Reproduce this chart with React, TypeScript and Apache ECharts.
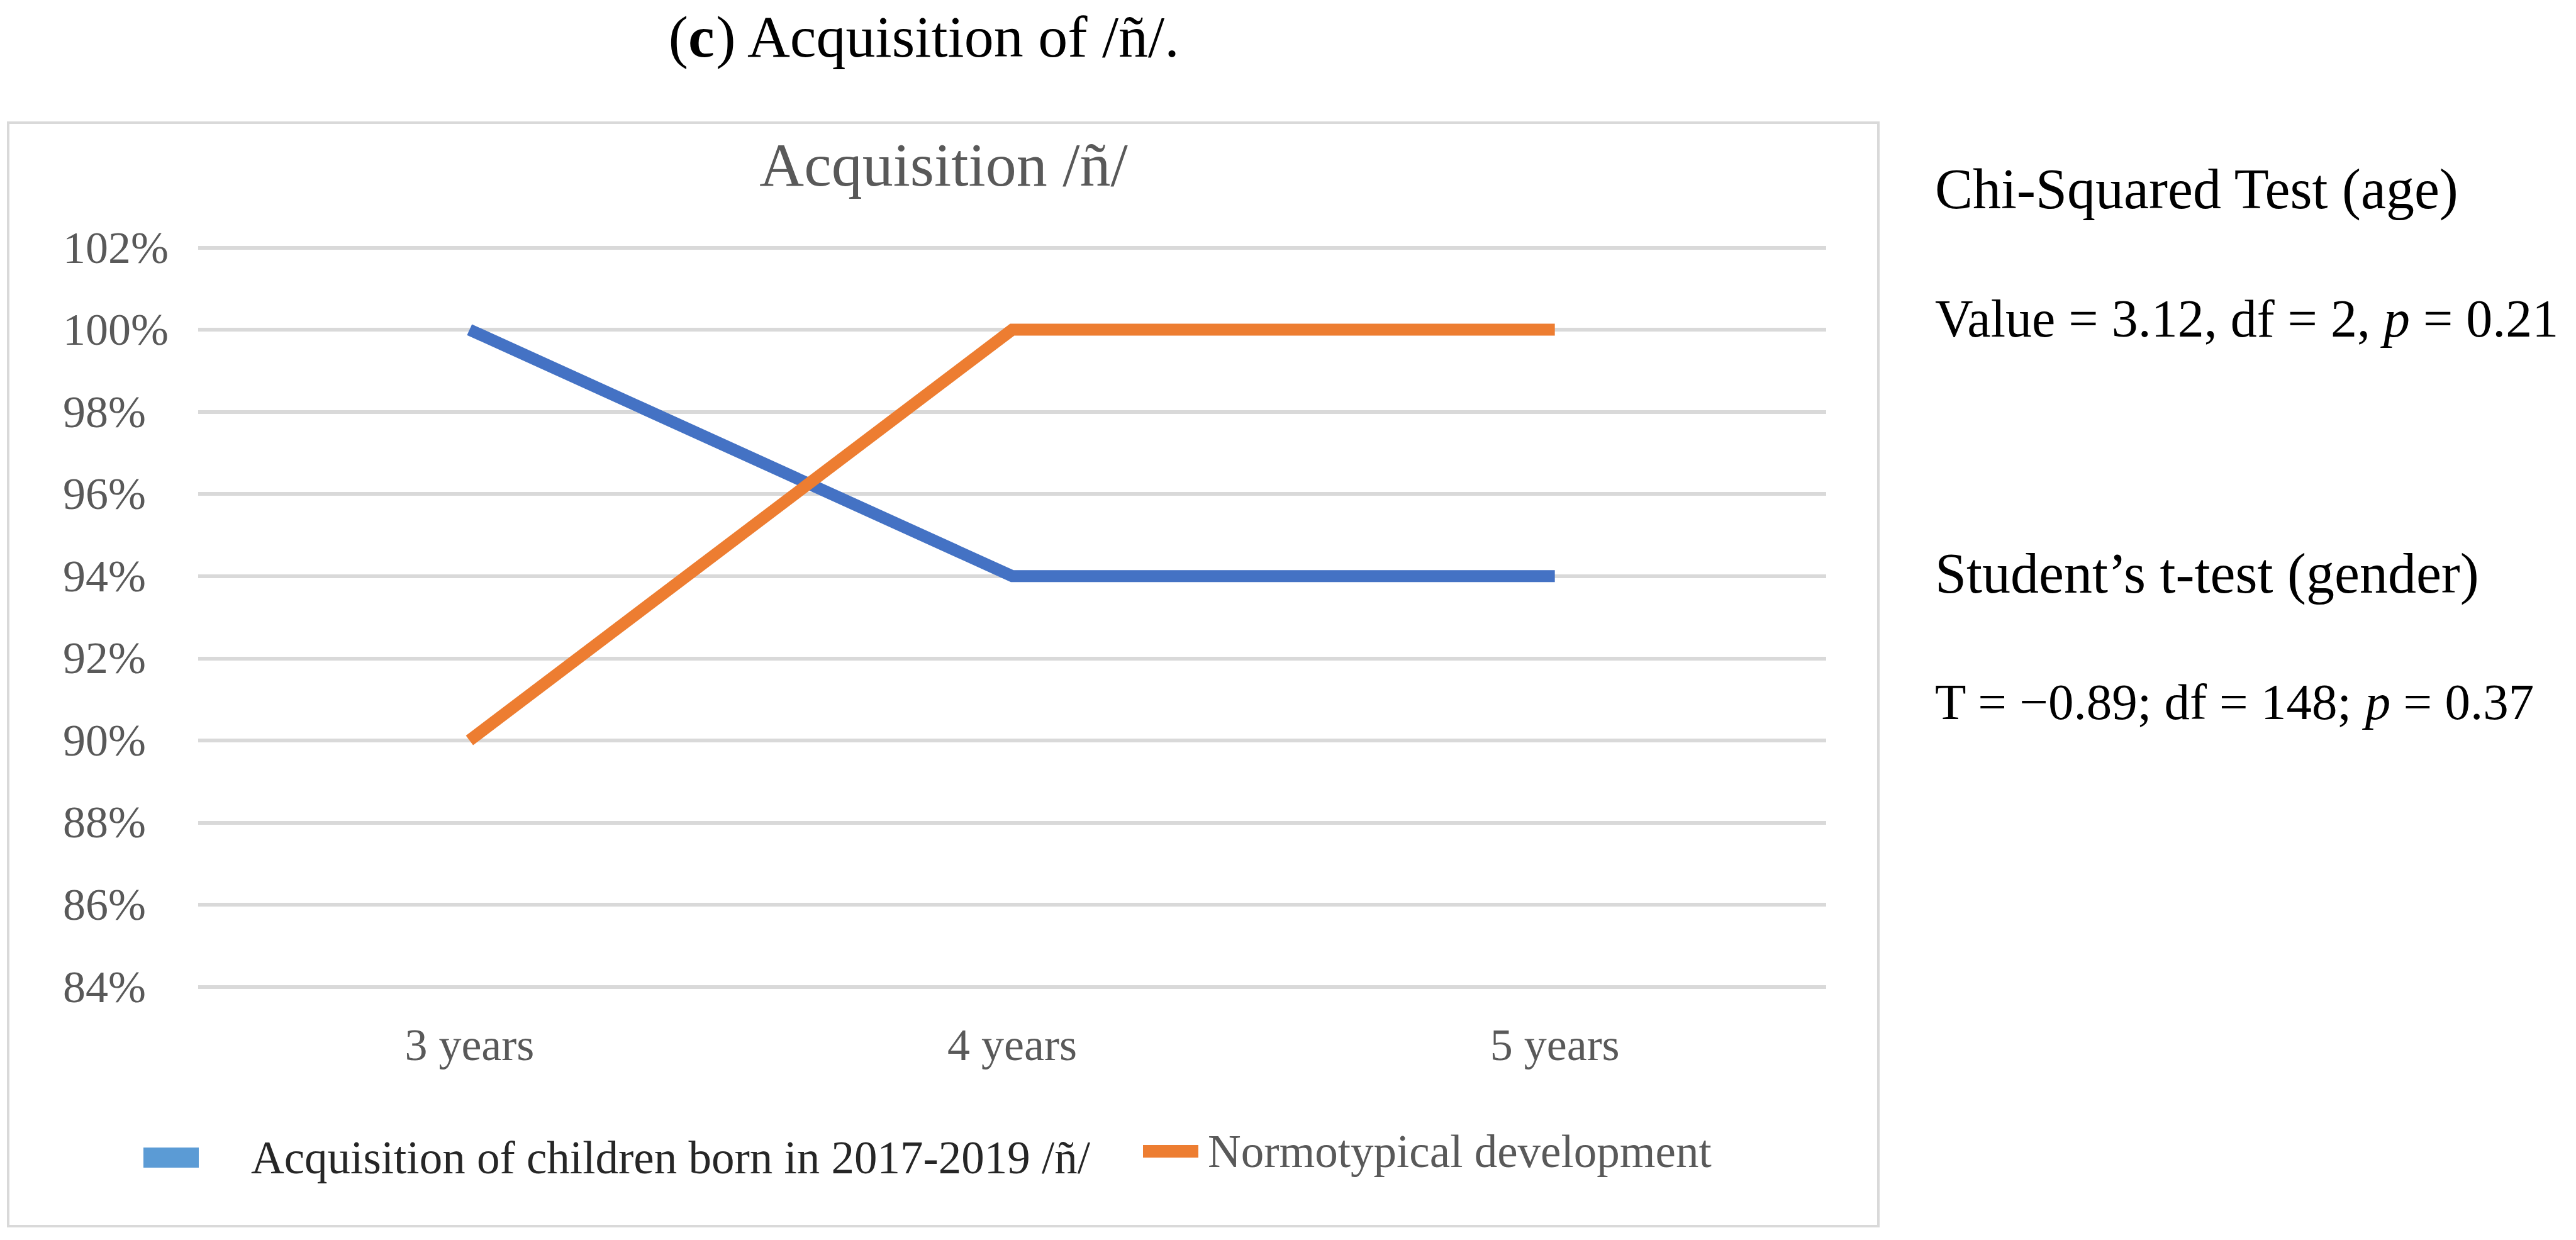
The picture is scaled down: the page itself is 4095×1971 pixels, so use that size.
import React, { useEffect, useRef } from "react";
import * as echarts from "echarts";

const categories = ["3 years", "4 years", "5 years"];
const acquisitionValues = [100, 94, 94];
const normotypicalValues = [90, 100, 100];
const seriesNames = [
  "Acquisition of children born in 2017-2019 /ñ/",
  "Normotypical development",
];
const yMin = 84;
const yMax = 102;
const yInterval = 2;
const chartTitle = "Acquisition /ñ/";
const captionText = "({b|c}) Acquisition of /ñ/.";
const statHeadings = ["Chi-Squared Test (age)", "Student’s t-test (gender)"];
const statValues = [
  "Value = 3.12, df = 2, {i|p} = 0.21",
  "T = −0.89; df = 148; {i|p} = 0.37",
];

const SERIF = "Liberation Serif";

export default function App() {
  const ref = useRef<HTMLDivElement>(null);

  useEffect(() => {
    document.body.style.margin = "0";
    if (!ref.current) return;
    const chart = echarts.init(ref.current, undefined, { renderer: "svg" });
    chart.setOption({
      animation: false,
      backgroundColor: "#ffffff",
      textStyle: { fontFamily: SERIF },
      grid: {
        left: 315,
        top: 393.5,
        width: 2588,
        height: 1175,
        containLabel: false,
      },
      legend: [
        {
          data: [
            {
              name: seriesNames[0],
              icon: "rect",
              itemStyle: { color: "#5B9BD5" },
              textStyle: { color: "#262626", fontFamily: SERIF, fontSize: 73 },
            },
          ],
          left: 228,
          top: 1800,
          padding: 0,
          itemWidth: 88,
          itemHeight: 32,
          textStyle: {
            fontFamily: SERIF,
            fontSize: 73,
            lineHeight: 80,
            color: "#262626",
            padding: [0, 0, 0, 78],
          },
        },
        {
          data: [
            {
              name: seriesNames[1],
              icon: "rect",
              itemStyle: { color: "#ED7D31" },
              textStyle: { color: "#595959", fontFamily: SERIF, fontSize: 73 },
            },
          ],
          left: 1817,
          top: 1790,
          padding: 0,
          itemWidth: 88,
          itemHeight: 20,
          textStyle: {
            fontFamily: SERIF,
            fontSize: 73,
            lineHeight: 80,
            color: "#595959",
            padding: [0, 0, 0, 10],
          },
        },
      ],
      xAxis: {
        type: "category",
        data: categories,
        boundaryGap: true,
        axisLine: { show: false },
        axisTick: { show: false },
        axisLabel: {
          fontFamily: SERIF,
          fontSize: 72,
          color: "#595959",
          margin: 56,
        },
      },
      yAxis: {
        type: "value",
        min: yMin,
        max: yMax,
        interval: yInterval,
        axisLine: { show: false },
        axisTick: { show: false },
        axisLabel: {
          formatter: "{value}%",
          fontFamily: SERIF,
          fontSize: 72,
          color: "#595959",
          align: "left",
          margin: 215,
        },
        splitLine: { lineStyle: { color: "#D9D9D9", width: 6 } },
      },
      series: [
        {
          name: seriesNames[0],
          type: "line",
          data: acquisitionValues,
          symbol: "none",
          lineStyle: { color: "#4472C4", width: 19, cap: "butt", join: "miter" },
          itemStyle: { color: "#4472C4" },
          z: 3,
        },
        {
          name: seriesNames[1],
          type: "line",
          data: normotypicalValues,
          symbol: "none",
          lineStyle: { color: "#ED7D31", width: 19, cap: "butt", join: "miter" },
          itemStyle: { color: "#ED7D31" },
          z: 4,
        },
      ],
      graphic: [
        {
          type: "rect",
          z: -10,
          shape: { x: 13, y: 195, width: 2973, height: 1754 },
          style: { fill: "none", stroke: "#D9D9D9", lineWidth: 4 },
          silent: true,
        },
        {
          type: "text",
          x: 1500,
          y: 262,
          style: {
            text: chartTitle,
            fontFamily: SERIF,
            fontSize: 98,
            fill: "#595959",
            align: "center",
            verticalAlign: "middle",
          },
        },
        {
          type: "text",
          x: 1470,
          y: 58,
          style: {
            text: captionText,
            fontFamily: SERIF,
            fontSize: 94,
            fill: "#000000",
            align: "center",
            verticalAlign: "middle",
            rich: {
              b: { fontFamily: SERIF, fontSize: 94, fontWeight: "bold", fill: "#000000" },
            },
          },
        },
        {
          type: "text",
          x: 3076,
          y: 300,
          style: {
            text: statHeadings[0],
            fontFamily: SERIF,
            fontSize: 90,
            fill: "#000000",
            align: "left",
            verticalAlign: "middle",
          },
        },
        {
          type: "text",
          x: 3076,
          y: 506,
          style: {
            text: statValues[0],
            fontFamily: SERIF,
            fontSize: 84,
            fill: "#000000",
            align: "left",
            verticalAlign: "middle",
            rich: {
              i: { fontFamily: SERIF, fontSize: 84, fontStyle: "italic", fill: "#000000" },
            },
          },
        },
        {
          type: "text",
          x: 3076,
          y: 911,
          style: {
            text: statHeadings[1],
            fontFamily: SERIF,
            fontSize: 90,
            fill: "#000000",
            align: "left",
            verticalAlign: "middle",
          },
        },
        {
          type: "text",
          x: 3076,
          y: 1116,
          style: {
            text: statValues[1],
            fontFamily: SERIF,
            fontSize: 81,
            fill: "#000000",
            align: "left",
            verticalAlign: "middle",
            rich: {
              i: { fontFamily: SERIF, fontSize: 81, fontStyle: "italic", fill: "#000000" },
            },
          },
        },
      ],
    });
    return () => chart.dispose();
  }, []);

  return (
    <div
      ref={ref}
      style={{ position: "absolute", left: 0, top: 0, width: 4095, height: 1971 }}
    />
  );
}
